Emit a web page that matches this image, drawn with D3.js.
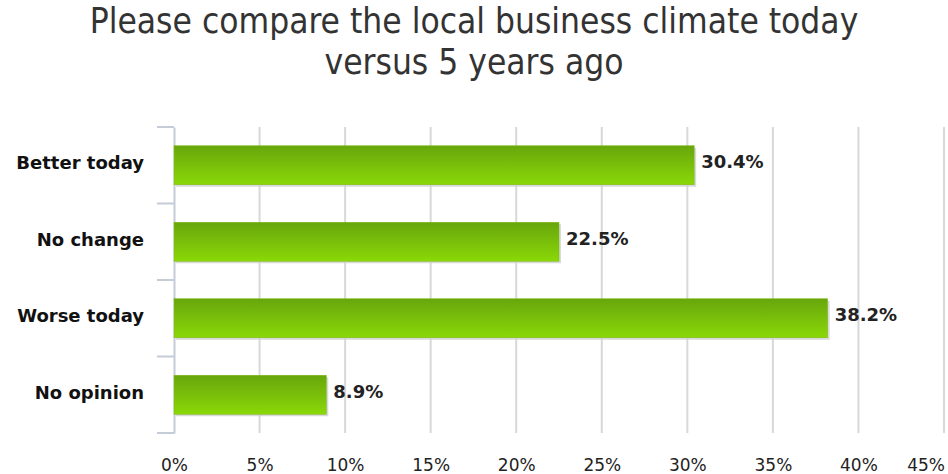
<!DOCTYPE html>
<html><head><meta charset="utf-8">
<script src="https://cdn.jsdelivr.net/npm/d3@7"></script>
<style>body{margin:0;background:#fff}</style>
</head><body>
<script>
const categories = ["Better today", "No change", "Worse today", "No opinion"];
const values = [30.4, 22.5, 38.2, 8.9];
const tickValues = [0, 5, 10, 15, 20, 25, 30, 35, 40, 45];
const titleLines = ["Please compare the local business climate today", "versus 5 years ago"];

const W = 948, H = 474;
const svg = d3.select("body").append("svg").attr("width", W).attr("height", H);
const defs = svg.append("defs");
const grad = defs.append("linearGradient").attr("id", "g").attr("x1", 0).attr("y1", 0).attr("x2", 0).attr("y2", 1);
grad.append("stop").attr("offset", "0%").attr("stop-color", "#68a60c");
grad.append("stop").attr("offset", "100%").attr("stop-color", "#8ad808");

const x = d3.scaleLinear().domain([0, 45]).range([174, 944]);
const yb = d3.scaleBand().domain(categories).range([127, 433]);
const y = d3.scaleBand().domain(categories).range([127, 433]).paddingInner(0.49).paddingOuter(0.245);

svg.selectAll("text.title").data(titleLines).enter().append("text")
  .attr("x", W / 2).attr("y", (d, i) => 33 + i * 40.5)
  .attr("text-anchor", "middle")
  .style("font-family", "'DejaVu Sans Condensed', 'DejaVu Sans', sans-serif")
  .style("font-stretch", "condensed")
  .style("font-size", "35px").attr("fill", "#333").text(d => d);

// grid
svg.selectAll("line.grid").data(tickValues.slice(1)).enter().append("line")
  .attr("x1", d => x(d)).attr("x2", d => x(d)).attr("y1", 127).attr("y2", 433)
  .attr("stroke", "#d8d8d8").attr("stroke-width", 2);

// y axis
const yAxis = svg.append("g").attr("transform", "translate(174,0)")
  .call(d3.axisLeft(yb).tickSize(0).tickFormat(""));
yAxis.select(".domain").attr("stroke", "#c4ccd8").attr("stroke-width", 2);
const bounds = categories.map(c => yb(c)).concat([433]);
svg.selectAll("line.ytick").data(bounds).enter().append("line")
  .attr("x1", 157).attr("x2", 174).attr("y1", d => d).attr("y2", d => d)
  .attr("stroke", "#c4ccd8").attr("stroke-width", 2);
svg.selectAll("text.cat").data(categories).enter().append("text")
  .attr("x", 144).attr("y", d => yb(d) + yb.bandwidth() / 2 + 4)
  .attr("text-anchor", "end")
  .style("font-family", "'DejaVu Sans', sans-serif").style("font-weight", "bold")
  .style("font-size", "18px").attr("fill", "#111").text(d => d);

// x axis labels
const xAxis = svg.append("g").attr("transform", "translate(0,471)")
  .call(d3.axisBottom(x).tickValues(tickValues).tickSize(0).tickPadding(0).tickFormat(d => d + "%"));
xAxis.select(".domain").remove();
xAxis.selectAll("text").attr("dy", 0).attr("y", 0)
  .style("font-family", "'DejaVu Sans', sans-serif").style("font-size", "17px").attr("fill", "#222");
xAxis.selectAll(".tick").filter(d => d === 45).select("text").attr("text-anchor", "end").attr("x", 0);
xAxis.selectAll(".tick").filter(d => d === 45).attr("transform", `translate(${W - 3},0)`);

// bars
const data = categories.map((c, i) => ({c, v: values[i]}));
svg.selectAll("rect.sh").data(data).enter().append("rect")
  .attr("x", x(0) + 2).attr("y", d => y(d.c) + 2)
  .attr("width", d => x(d.v) - x(0)).attr("height", y.bandwidth())
  .attr("fill", "#cfcfcf").attr("opacity", 0.8);
svg.selectAll("rect.bar").data(data).enter().append("rect")
  .attr("x", x(0)).attr("y", d => y(d.c))
  .attr("width", d => x(d.v) - x(0)).attr("height", y.bandwidth())
  .attr("fill", "url(#g)").attr("stroke", "#7dbb10").attr("stroke-width", 0.5);
svg.selectAll("text.val").data(data).enter().append("text")
  .attr("x", d => x(d.v) + 7).attr("y", d => y(d.c) + y.bandwidth() / 2 + 3)
  .style("font-family", "'DejaVu Sans', sans-serif").style("font-weight", "bold")
  .style("font-size", "18px").attr("fill", "#222").text(d => d.v.toFixed(1) + "%");
</script>
</body></html>
